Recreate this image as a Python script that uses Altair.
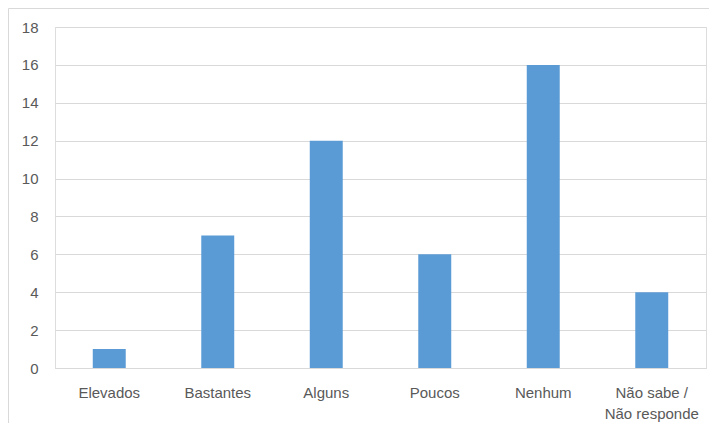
import altair as alt
import pandas as pd

categories = ["Elevados", "Bastantes", "Alguns", "Poucos", "Nenhum", "Não sabe /\nNão responde"]
values = [1, 7, 12, 6, 16, 4]
y_ticks = [0, 2, 4, 6, 8, 10, 12, 14, 16, 18]

df = pd.DataFrame({"categoria": categories, "valor": values})

W, H = 651, 341
FONT = "Liberation Sans"

bars = alt.Chart(df).mark_bar(color="#5B9BD5").encode(
    x=alt.X("categoria:N", sort=categories, title=None,
            scale=alt.Scale(paddingInner=0.696, paddingOuter=0.348),
            axis=alt.Axis(labelAngle=0, ticks=False, domain=True, domainColor="#D9D9D9",
                          labelPadding=17, labelFont=FONT, labelFontSize=15,
                          labelColor="#595959", labelLineHeight=21,
                          labelExpr="split(datum.label, '\\n')")),
    y=alt.Y("valor:Q", title=None,
            scale=alt.Scale(domain=[0, 18], nice=False),
            axis=alt.Axis(values=y_ticks, ticks=False, domain=False, grid=True,
                          gridColor="#D9D9D9", labelPadding=17, labelFont=FONT,
                          labelFontSize=15, labelColor="#595959")),
)

border = alt.Chart(pd.DataFrame({"k": [0]})).mark_rect(
    fill=None, stroke="#D9D9D9", strokeWidth=1, clip=False
).encode(
    x=alt.value(-46.5), x2=alt.value(W + 40),
    y=alt.value(-18.5), y2=alt.value(H + 120),
)

chart = alt.layer(border, bars).properties(
    width=W, height=H,
    autosize=alt.AutoSizeParams(type="none"),
    padding={"left": 47, "top": 19, "right": 3, "bottom": 55},
).configure_view(stroke=None).configure(background="white")

chart.save("out.html", embed_options={"renderer": "svg", "actions": False})
